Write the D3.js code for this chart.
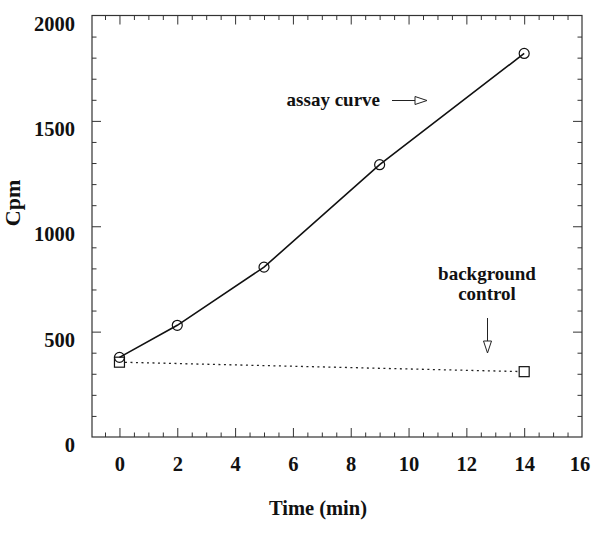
<!DOCTYPE html>
<html>
<head>
<meta charset="utf-8">
<script src="https://cdn.jsdelivr.net/npm/d3@7"></script>
<style>
  body { margin: 0; background: #fff; }
  svg text { font-family: "Liberation Serif", "Times New Roman", serif; font-weight: bold; fill: #111; }
</style>
</head>
<body>
<svg id="chart"></svg>
<script>
(() => {
  const width = 591, height = 542;

  // data
  const assayTime = [0, 2, 5, 9, 14];
  const assayCpm = [378, 530, 806, 1292, 1820];
  const bgTime = [0, 14];
  const bgCpm = [355, 310];
  const xTicks = [0, 2, 4, 6, 8, 10, 12, 14, 16];
  const yTicks = [0, 500, 1000, 1500, 2000];

  const svg = d3.select("#chart")
    .attr("width", width)
    .attr("height", height);

  const left = 92, right = 582, top = 15.5, bottom = 437;

  const x = d3.scaleLinear().domain([-0.95, 16]).range([left, right]);
  const y = d3.scaleLinear().domain([0, 2000]).range([bottom, top]);

  const xMinor = d3.range(-0.5, 16, 0.5).filter(v => !xTicks.includes(v));
  const yMinor = d3.range(100, 2000, 100).filter(v => !yTicks.includes(v));

  const tickColor = "#333";

  // minor ticks, all four sides, pointing in
  const minorAxes = [
    [d3.axisBottom(x), `translate(0,${bottom})`, xMinor],
    [d3.axisTop(x), `translate(0,${top})`, xMinor],
    [d3.axisLeft(y), `translate(${left},0)`, yMinor],
    [d3.axisRight(y), `translate(${right},0)`, yMinor]
  ];
  minorAxes.forEach(([ax, tr, vals]) => {
    const g = svg.append("g").attr("transform", tr)
      .call(ax.tickValues(vals).tickSize(-4.5).tickFormat(""));
    g.select(".domain").remove();
    g.selectAll("line").attr("stroke", tickColor);
  });

  // major ticks top and right, no labels
  const gTop = svg.append("g").attr("transform", `translate(0,${top})`)
    .call(d3.axisTop(x).tickValues(xTicks.filter(v => v < 16)).tickSize(-9).tickFormat(""));
  const gRight = svg.append("g").attr("transform", `translate(${right},0)`)
    .call(d3.axisRight(y).tickValues(yTicks.filter(v => v > 0 && v < 2000)).tickSize(-9).tickFormat(""));
  [gTop, gRight].forEach(g => {
    g.select(".domain").remove();
    g.selectAll("line").attr("stroke", tickColor);
  });

  // bottom axis with labels
  const gx = svg.append("g").attr("transform", `translate(0,${bottom})`)
    .call(d3.axisBottom(x).tickValues(xTicks).tickSize(-9).tickPadding(19).tickFormat(d3.format("d")));
  gx.select(".domain").remove();
  gx.selectAll("line").attr("stroke", tickColor)
    .filter(d => d === 16).remove();
  gx.selectAll("text").attr("font-size", 20.5).attr("fill", "#111")
    .filter(d => d === 16).attr("dx", -2.5);

  // left axis with labels
  const gy = svg.append("g").attr("transform", `translate(${left},0)`)
    .call(d3.axisLeft(y).tickValues(yTicks).tickSize(-9).tickPadding(17).tickFormat(d3.format("d")));
  gy.select(".domain").remove();
  gy.selectAll("line").attr("stroke", tickColor)
    .filter(d => d === 0 || d === 2000).remove();
  gy.selectAll("text").attr("font-size", 20.5).attr("fill", "#111").attr("y", 8);

  // frame
  svg.append("rect")
    .attr("x", left).attr("y", top)
    .attr("width", right - left).attr("height", bottom - top)
    .attr("fill", "none").attr("stroke", tickColor).attr("stroke-width", 1.2);

  // axis titles
  svg.append("text")
    .attr("x", 318).attr("y", 515)
    .attr("text-anchor", "middle")
    .attr("font-size", 20.5)
    .text("Time (min)");

  svg.append("text")
    .attr("transform", "translate(20,203) rotate(-90)")
    .attr("text-anchor", "middle")
    .attr("font-size", 22)
    .text("Cpm");

  const line = d3.line().x(d => x(d[0])).y(d => y(d[1]));

  // background control, dotted
  const bg = bgTime.map((t, i) => [t, bgCpm[i]]);
  svg.append("path")
    .attr("d", line(bg))
    .attr("fill", "none")
    .attr("stroke", "#222")
    .attr("stroke-width", 1.3)
    .attr("stroke-dasharray", "2,3.5");

  svg.selectAll(".sq")
    .data(bg)
    .join("rect")
    .attr("class", "sq")
    .attr("x", d => x(d[0]) - 5)
    .attr("y", d => y(d[1]) - 5)
    .attr("width", 10).attr("height", 10)
    .attr("fill", "#fff")
    .attr("stroke", "#111")
    .attr("stroke-width", 1.2);

  // assay curve, solid
  const assay = assayTime.map((t, i) => [t, assayCpm[i]]);
  svg.append("path")
    .attr("d", line(assay))
    .attr("fill", "none")
    .attr("stroke", "#111")
    .attr("stroke-width", 1.6);

  svg.selectAll(".pt")
    .data(assay)
    .join("circle")
    .attr("class", "pt")
    .attr("cx", d => x(d[0]))
    .attr("cy", d => y(d[1]))
    .attr("r", 5)
    .attr("fill", "none")
    .attr("stroke", "#111")
    .attr("stroke-width", 1.2);

  // annotations
  svg.append("text")
    .attr("x", 380).attr("y", 106)
    .attr("text-anchor", "end")
    .attr("font-size", 19)
    .text("assay curve");

  // horizontal open arrow
  svg.append("line")
    .attr("x1", 392).attr("y1", 100.5).attr("x2", 416).attr("y2", 100.5)
    .attr("stroke", "#222").attr("stroke-width", 1);
  svg.append("path")
    .attr("d", "M415,96.5 L427,100.5 L415,104.5 Z")
    .attr("fill", "#fff").attr("stroke", "#222").attr("stroke-width", 1);

  svg.append("text")
    .attr("x", 487).attr("y", 280)
    .attr("text-anchor", "middle")
    .attr("font-size", 19)
    .text("background");
  svg.append("text")
    .attr("x", 487).attr("y", 300)
    .attr("text-anchor", "middle")
    .attr("font-size", 19)
    .text("control");

  // vertical open arrow
  svg.append("line")
    .attr("x1", 487.5).attr("y1", 318).attr("x2", 487.5).attr("y2", 342)
    .attr("stroke", "#222").attr("stroke-width", 1);
  svg.append("path")
    .attr("d", "M483.5,341 L487.5,353 L491.5,341 Z")
    .attr("fill", "#fff").attr("stroke", "#222").attr("stroke-width", 1);
})();
</script>
</body>
</html>
